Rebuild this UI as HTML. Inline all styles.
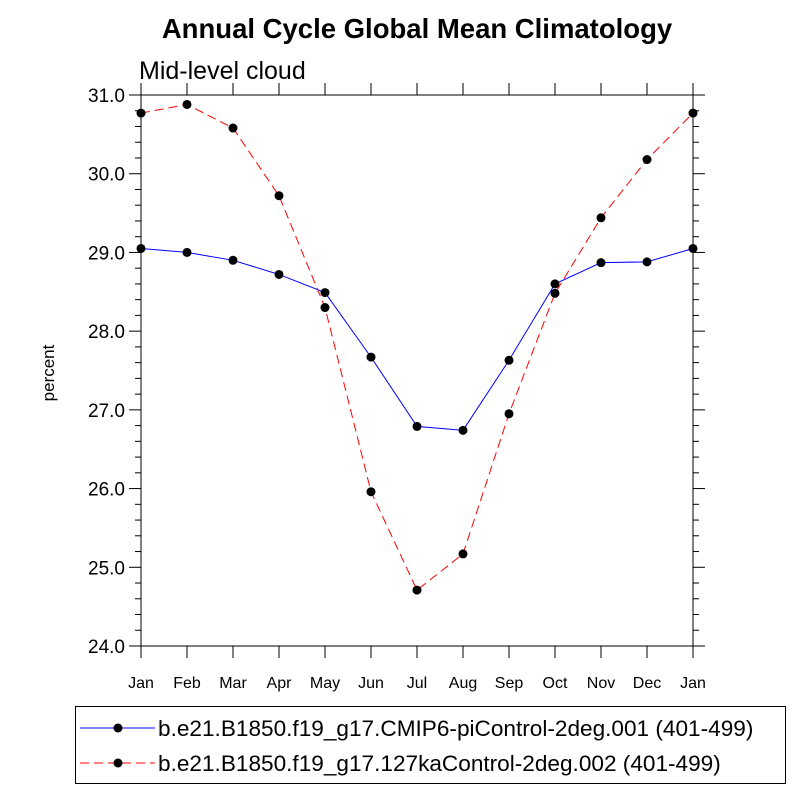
<!DOCTYPE html>
<html><head><meta charset="utf-8"><style>
body{margin:0;background:#fff;width:800px;height:800px;overflow:hidden}
text{font-family:"Liberation Sans",sans-serif}
</style></head><body>
<svg id="chart" width="800" height="800" xmlns="http://www.w3.org/2000/svg">
<text x="417" y="38" text-anchor="middle" font-size="27.5" font-weight="bold">Annual Cycle Global Mean Climatology</text>
<text x="139" y="79" font-size="25">Mid-level cloud</text>
<text transform="translate(54,373) rotate(-90)" text-anchor="middle" font-size="17">percent</text>
<g id="axes"></g><g id="series"></g>
<g>
<rect x="75.5" y="706.5" width="710" height="77" fill="none" stroke="#000"/>
<line x1="80" y1="728" x2="155" y2="728" stroke="#00f" stroke-width="1"/>
<circle cx="118" cy="728" r="4.5" fill="#000"/>
<text x="158" y="736" font-size="22.6">b.e21.B1850.f19_g17.CMIP6-piControl-2deg.001 (401-499)</text>
<line x1="80" y1="763" x2="155" y2="763" stroke="#f00" stroke-dasharray="9,5"/>
<circle cx="118" cy="763" r="4.5" fill="#000"/>
<text x="158" y="771" font-size="22.6">b.e21.B1850.f19_g17.127kaControl-2deg.002 (401-499)</text>
</g>
</svg>
<script>
const months=["Jan","Feb","Mar","Apr","May","Jun","Jul","Aug","Sep","Oct","Nov","Dec","Jan"];
const piControl=[29.05,29.0,28.9,28.72,28.49,27.67,26.79,26.74,27.63,28.6,28.87,28.88,29.05];
const ka127=[30.77,30.88,30.58,29.72,28.3,25.96,24.71,25.17,26.95,28.48,29.44,30.18,30.77];
const yTicks=[24,25,26,27,28,29,30,31];
const NS="http://www.w3.org/2000/svg";
const L=141,R=693,T=95,B=646,ymin=24,ymax=31;
const xs=i=>L+(R-L)*i/(months.length-1);
const ys=v=>B-(v-ymin)/(ymax-ymin)*(B-T);
function mk(tag,attrs,parent){const e=document.createElementNS(NS,tag);for(const k in attrs)e.setAttribute(k,attrs[k]);parent.appendChild(e);return e;}
const ax=document.getElementById('axes');
const frame=mk('rect',{x:L,y:T,width:R-L,height:B-T,fill:'none',stroke:'#000'},ax);


for(let v=ymin;v<=ymax+1e-9;v+=0.2){
  const y=ys(v),major=Math.abs(v-Math.round(v))<1e-6,len=major?12:6;
  mk('line',{x1:L,y1:y,x2:L-len,y2:y,stroke:'#000'},ax);
  mk('line',{x1:R,y1:y,x2:R+len,y2:y,stroke:'#000'},ax);
}
yTicks.forEach(v=>{
  const t=mk('text',{x:L-16,y:ys(v)+7,'text-anchor':'end','font-size':'19'},ax);
  t.textContent=v.toFixed(1);
  
  
});
months.forEach((m,i)=>{
  const x=xs(i);
  mk('line',{x1:x,y1:B,x2:x,y2:B+12,stroke:'#000'},ax);
  mk('line',{x1:x,y1:T,x2:x,y2:T-12,stroke:'#000'},ax);
  const t=mk('text',{x:x,y:B+42,'text-anchor':'middle','font-size':'16'},ax);
  t.textContent=m;
  
  
});
const sg=document.getElementById('series');
function draw(vals,color,dash,name){
  const p=mk('polyline',{points:vals.map((v,i)=>xs(i)+','+ys(v)).join(' '),fill:'none',stroke:color,'stroke-width':1,'stroke-dasharray':dash},sg);
  
  
  vals.forEach((v,i)=>{
    const c=mk('circle',{cx:xs(i),cy:ys(v),r:4.5,fill:'#000'},sg);
    
    
  });
}
draw(piControl,'#00f','none','picontrol');
draw(ka127,'#f00','9,5','ka127');
</script>
</body></html>
